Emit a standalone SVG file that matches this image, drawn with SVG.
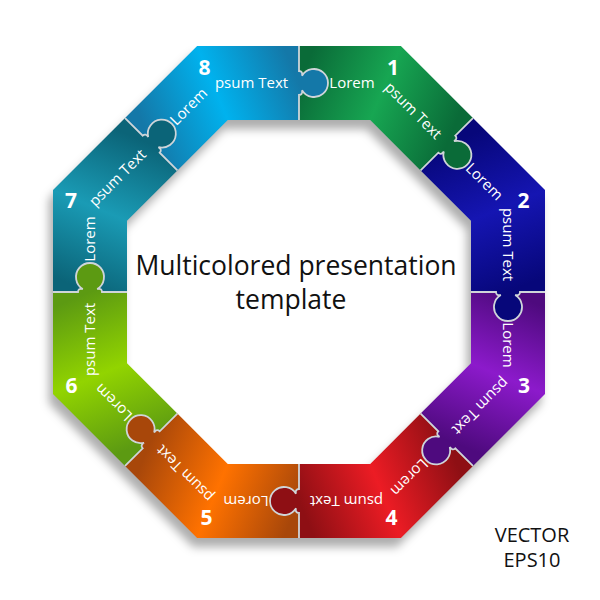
<svg xmlns="http://www.w3.org/2000/svg" width="600" height="600" viewBox="0 0 600 600">
<style>
.lbl{font-family:"Open Sans","DejaVu Sans",sans-serif;font-size:15px;fill:#fff;text-anchor:middle}
.num{font-family:"Open Sans","DejaVu Sans",sans-serif;font-size:21px;font-weight:bold;fill:#fff;text-anchor:middle}
.title{font-family:"Open Sans","DejaVu Sans",sans-serif;font-size:26.5px;fill:#111;text-anchor:middle}
.note{font-family:"Open Sans","DejaVu Sans",sans-serif;font-size:20px;fill:#111;text-anchor:middle}
.seam{fill:none;stroke:#cfd5d9;stroke-width:1.8}
</style>
<defs>
<linearGradient id="g1" gradientUnits="userSpaceOnUse" x1="0" y1="-209" x2="147.8" y2="-147.8"><stop offset="0" stop-color="#0a6b38"/><stop offset="0.5" stop-color="#17a652"/><stop offset="1" stop-color="#0a6b38"/></linearGradient>
<linearGradient id="g2" gradientUnits="userSpaceOnUse" x1="0" y1="-209" x2="147.8" y2="-147.8"><stop offset="0" stop-color="#07077a"/><stop offset="0.5" stop-color="#1515b2"/><stop offset="1" stop-color="#07077a"/></linearGradient>
<linearGradient id="g3" gradientUnits="userSpaceOnUse" x1="0" y1="-209" x2="147.8" y2="-147.8"><stop offset="0" stop-color="#4e0a7e"/><stop offset="0.5" stop-color="#8c1acb"/><stop offset="1" stop-color="#4e0a7e"/></linearGradient>
<linearGradient id="g4" gradientUnits="userSpaceOnUse" x1="0" y1="-209" x2="147.8" y2="-147.8"><stop offset="0" stop-color="#8e0f14"/><stop offset="0.5" stop-color="#ec1c24"/><stop offset="1" stop-color="#8e0f14"/></linearGradient>
<linearGradient id="g5" gradientUnits="userSpaceOnUse" x1="0" y1="-209" x2="147.8" y2="-147.8"><stop offset="0" stop-color="#a8470a"/><stop offset="0.5" stop-color="#ff7200"/><stop offset="1" stop-color="#a8470a"/></linearGradient>
<linearGradient id="g6" gradientUnits="userSpaceOnUse" x1="0" y1="-209" x2="147.8" y2="-147.8"><stop offset="0" stop-color="#5c9a12"/><stop offset="0.5" stop-color="#92d400"/><stop offset="1" stop-color="#5c9a12"/></linearGradient>
<linearGradient id="g7" gradientUnits="userSpaceOnUse" x1="0" y1="-209" x2="147.8" y2="-147.8"><stop offset="0" stop-color="#0b6478"/><stop offset="0.5" stop-color="#1a9bb5"/><stop offset="1" stop-color="#0b6478"/></linearGradient>
<linearGradient id="g8" gradientUnits="userSpaceOnUse" x1="0" y1="-209" x2="147.8" y2="-147.8"><stop offset="0" stop-color="#1478a8"/><stop offset="0.5" stop-color="#00b2ee"/><stop offset="1" stop-color="#1478a8"/></linearGradient>
<path id="pc" d="M0,-246 L101.9,-246 L173.95,-173.95 L156.27,-156.27 Q159.1,-153.44 155,-150.76 A14 14 0 1 1 144.81,-140.57 Q142.13,-136.47 139.3,-139.3 L121.62,-121.62 L71.24,-172 L0,-172 L0,-197 Q4,-197 3,-201.79 A14 14 0 1 0 3,-216.21 Q4,-221 0,-221 Z"/>
<path id="seam" d="M173.95,-173.95 L156.27,-156.27 Q159.1,-153.44 155,-150.76 A14 14 0 1 1 144.81,-140.57 Q142.13,-136.47 139.3,-139.3 L121.62,-121.62"/>
<filter id="sh" x="-20%" y="-20%" width="140%" height="140%"><feGaussianBlur stdDeviation="5"/></filter>
</defs>
<rect width="600" height="600" fill="#fff"/>
<g id="shadow" filter="url(#sh)" transform="translate(-4,9)">
<path fill="#000" fill-opacity="0.32" fill-rule="evenodd" d="M197.1,46 L400.9,46 L545,190.1 L545,393.9 L400.9,538 L197.1,538 L53,393.9 L53,190.1 Z M227.76,120 L370.24,120 L471,220.76 L471,363.24 L370.24,464 L227.76,464 L127,363.24 L127,220.76 Z"/>
</g>
<g id="piece1">
<g transform="translate(299,292) rotate(0)"><use href="#pc" fill="url(#g1)"/><text class="lbl" x="53" y="-204">Lorem</text><text class="lbl" x="-47.5" y="-204" transform="rotate(45)">psum Text</text></g>
<text class="num" x="393" y="75">1</text>
</g>
<g id="piece2">
<g transform="translate(299,292) rotate(45)"><use href="#pc" fill="url(#g2)"/><text class="lbl" x="53" y="-204">Lorem</text><text class="lbl" x="-47.5" y="-204" transform="rotate(45)">psum Text</text></g>
<text class="num" x="523.5" y="208">2</text>
</g>
<g id="piece3">
<g transform="translate(299,292) rotate(90)"><use href="#pc" fill="url(#g3)"/><text class="lbl" x="53" y="-204">Lorem</text><text class="lbl" x="-47.5" y="-204" transform="rotate(45)">psum Text</text></g>
<text class="num" x="524" y="393">3</text>
</g>
<g id="piece4">
<g transform="translate(299,292) rotate(135)"><use href="#pc" fill="url(#g4)"/><text class="lbl" x="53" y="-204">Lorem</text><text class="lbl" x="-47.5" y="-204" transform="rotate(45)">psum Text</text></g>
<text class="num" x="391.5" y="525">4</text>
</g>
<g id="piece5">
<g transform="translate(299,292) rotate(180)"><use href="#pc" fill="url(#g5)"/><text class="lbl" x="53" y="-204">Lorem</text><text class="lbl" x="-47.5" y="-204" transform="rotate(45)">psum Text</text></g>
<text class="num" x="206.5" y="525">5</text>
</g>
<g id="piece6">
<g transform="translate(299,292) rotate(225)"><use href="#pc" fill="url(#g6)"/><text class="lbl" x="53" y="-204">Lorem</text><text class="lbl" x="-47.5" y="-204" transform="rotate(45)">psum Text</text></g>
<text class="num" x="71.5" y="393">6</text>
</g>
<g id="piece7">
<g transform="translate(299,292) rotate(270)"><use href="#pc" fill="url(#g7)"/><text class="lbl" x="53" y="-204">Lorem</text><text class="lbl" x="-47.5" y="-204" transform="rotate(45)">psum Text</text></g>
<text class="num" x="71" y="208">7</text>
</g>
<g id="piece8">
<g transform="translate(299,292) rotate(315)"><use href="#pc" fill="url(#g8)"/><text class="lbl" x="53" y="-204">Lorem</text><text class="lbl" x="-47.5" y="-204" transform="rotate(45)">psum Text</text></g>
<text class="num" x="204.5" y="75">8</text>
</g>
<g id="seams" transform="translate(299,292)">
<use href="#seam" class="seam"/>
<use href="#seam" class="seam" transform="rotate(45)"/>
<use href="#seam" class="seam" transform="rotate(90)"/>
<use href="#seam" class="seam" transform="rotate(135)"/>
<use href="#seam" class="seam" transform="rotate(180)"/>
<use href="#seam" class="seam" transform="rotate(225)"/>
<use href="#seam" class="seam" transform="rotate(270)"/>
<use href="#seam" class="seam" transform="rotate(315)"/>
</g>
<g id="title">
<text class="title" x="296" y="275">Multicolored presentation</text>
<text class="title" x="291" y="309">template</text>
</g>
<g id="note">
<text class="note" x="532" y="542">VECTOR</text>
<text class="note" x="532" y="567">EPS10</text>
</g>
</svg>
